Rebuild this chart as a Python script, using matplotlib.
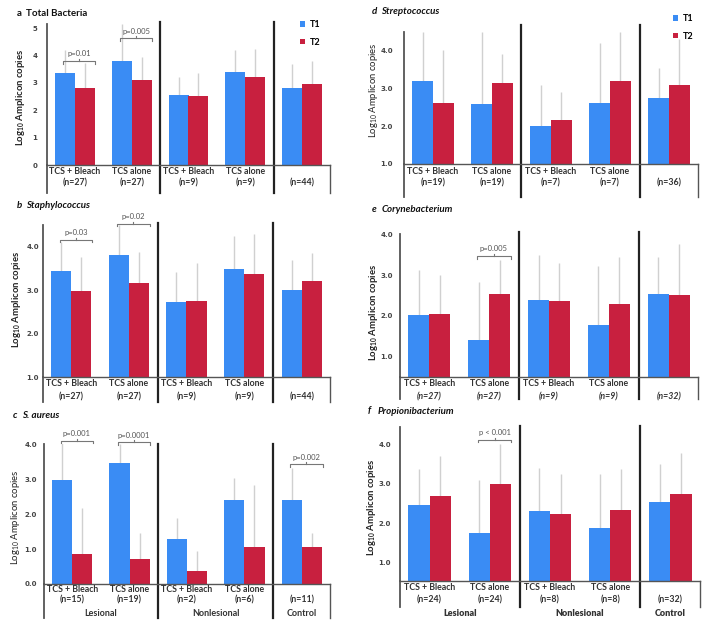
import matplotlib
matplotlib.use('Agg')
import matplotlib.pyplot as plt
import matplotlib.transforms as mtransforms
import numpy as np

plt.rcParams['font.family'] = ['Lato', 'DejaVu Sans']
plt.rcParams['mathtext.default'] = 'regular'

W, H = 714, 628
BLUE = '#3a8cf4'
RED = '#c8203f'
ERRC = '#d0d0d0'

# ---------------- data ----------------
treat = ['TCS + Bleach', 'TCS alone', 'TCS + Bleach', 'TCS alone', '']
sites = ['Lesional', 'Nonlesional', 'Control']
series = ['T1', 'T2']

a_t1 = [3.38, 3.82, 2.55, 3.39, 2.83]
a_t2 = [2.80, 3.11, 2.51, 3.22, 2.98]
a_e1 = [0.82, 1.33, 0.68, 0.81, 0.87]
a_e2 = [0.92, 0.83, 0.84, 1.01, 0.81]
a_n = ['(n=27)', '(n=27)', '(n=9)', '(n=9)', '(n=44)']

b_t1 = [3.44, 3.82, 2.72, 3.50, 3.00]
b_t2 = [2.99, 3.18, 2.75, 3.37, 3.21]
b_e1 = [0.68, 0.68, 0.70, 0.75, 0.71]
b_e2 = [0.79, 0.70, 0.87, 0.92, 0.65]
b_n = ['(n=27)', '(n=27)', '(n=9)', '(n=9)', '(n=44)']

c_t1 = [2.98, 3.46, 1.29, 2.41, 2.41]
c_t2 = [0.85, 0.72, 0.38, 1.07, 1.07]
c_e1 = [1.07, 0.54, 0.59, 0.62, 0.92]
c_e2 = [1.32, 0.73, 0.57, 1.77, 0.40]
c_n = ['(n=15)', '(n=19)', '(n=2)', '(n=6)', '(n=11)']

d_t1 = [3.18, 2.59, 1.99, 2.62, 2.73]
d_t2 = [2.60, 3.13, 2.15, 3.20, 3.07]
d_e1 = [1.30, 1.89, 1.09, 1.56, 0.81]
d_e2 = [1.40, 0.76, 0.75, 1.28, 1.23]
d_n = ['(n=19)', '(n=19)', '(n=7)', '(n=7)', '(n=36)']

e_t1 = [2.02, 1.41, 2.39, 1.77, 2.53]
e_t2 = [2.05, 2.55, 2.37, 2.29, 2.51]
e_e1 = [1.11, 1.43, 1.10, 1.45, 0.91]
e_e2 = [0.95, 0.82, 0.92, 1.15, 1.25]
e_n = ['(n=27)', '(n=27)', '(n=9)', '(n=9)', '(n=32)']

f_t1 = [2.47, 1.77, 2.31, 1.89, 2.55]
f_t2 = [2.70, 2.99, 2.23, 2.34, 2.75]
f_e1 = [0.90, 1.33, 1.10, 1.35, 0.94]
f_e2 = [1.01, 1.01, 1.01, 1.03, 1.02]
f_n = ['(n=24)', '(n=24)', '(n=8)', '(n=8)', '(n=32)']

# p-value brackets: (group, text, level)
a_p = [(0, 'p=0.01', 3.80), (1, 'p=0.005', 4.63)]
b_p = [(0, 'p=0.03', 4.17), (1, 'p=0.02', 4.54)]
c_p = [(0, 'p=0.001', 4.10), (1, 'p=0.0001', 4.06), (4, 'p=0.002', 3.43)]
e_p = [(1, 'p=0.005', 3.47)]
f_p = [(1, 'p < 0.001', 4.11)]

fig = plt.figure(figsize=(W / 100, H / 100), dpi=100)


def fy(ypx):
    return 1 - ypx / H


def panel(t1, t2, e1, e2, nlab, brackets, box, ylim, yticks, yfmt, tpad,
          title, title_xy, title_style, ylab_xy, ylab_bold, rows_y, sep_top,
          box_bottom, n_style, groups_y=None, group_weight='normal',
          legend_xy=None):
    x0, x1, ytop, ybot = box
    ax = fig.add_axes([x0 / W, fy(ybot), (x1 - x0) / W, (ybot - ytop) / H])
    xl = (-0.49, 4.49)
    ax.set_xlim(*xl)
    ax.set_ylim(*ylim)
    x = np.arange(len(t1))
    w = 0.35
    ax.errorbar(x - w / 2, t1, yerr=[np.zeros(len(t1)), e1], fmt='none',
                ecolor=ERRC, elinewidth=1.0, capsize=0, zorder=1)
    ax.errorbar(x + w / 2, t2, yerr=[np.zeros(len(t2)), e2], fmt='none',
                ecolor=ERRC, elinewidth=1.0, capsize=0, zorder=1)
    b1 = ax.bar(x - w / 2, t1, w, color=BLUE, zorder=2, label=series[0])
    b2 = ax.bar(x + w / 2, t2, w, color=RED, zorder=2, label=series[1])

    for s in ['top', 'right']:
        ax.spines[s].set_visible(False)
    ax.spines['left'].set_color('#555555')
    ax.spines['left'].set_linewidth(1.3)
    ax.spines['bottom'].set_color('#555555')
    ax.spines['bottom'].set_linewidth(1.0)
    ax.set_xticks([])
    ax.set_yticks(yticks)
    ax.set_yticklabels([yfmt.format(v) for v in yticks],
                       family=['DejaVu Sans'])
    ax.tick_params(axis='y', length=0, pad=tpad, labelsize=5,
                   labelcolor='#444444')
    for lab in ax.get_yticklabels():
        lab.set_fontweight('bold')

    tr = mtransforms.blended_transform_factory(ax.transData, fig.transFigure)
    ybot_f = fy(ybot)
    ax.plot([xl[0], xl[0]], [ybot_f, fy(box_bottom)], transform=tr,
            color='#555555', lw=1.3, clip_on=False)
    ax.plot([xl[1], xl[1]], [ybot_f, fy(box_bottom)], transform=tr,
            color='#555555', lw=1.0, clip_on=False)
    for sx in [1.5, 3.5]:
        ax.plot([sx, sx], [fy(sep_top), fy(box_bottom)], transform=tr,
                color='#222222', lw=1.6, clip_on=False)

    for i in range(len(t1)):
        if treat[i]:
            ax.text(i, fy(rows_y[0]), treat[i], transform=tr, ha='center',
                    va='center', fontsize=6.3, fontweight='bold',
                    color='#333333')
        ax.text(i, fy(rows_y[1]), nlab[i], transform=tr, ha='center',
                va='center', fontsize=6.3, color='#333333', **n_style)
    if groups_y is not None:
        for gx, g in zip([0.5, 2.5, 4.0], sites):
            ax.text(gx, fy(groups_y), g, transform=tr, ha='center',
                    va='center', fontsize=6.5, fontweight=group_weight,
                    color='#333333')

    ppu = (ybot - ytop) / (ylim[1] - ylim[0])
    dt = 2.5 / ppu
    for g, txt, lvl in brackets:
        lx, rx = g - 0.2, g + 0.36
        ax.plot([lx, lx, rx, rx], [lvl - dt, lvl, lvl, lvl - dt],
                color='#777777', lw=0.8, clip_on=False, zorder=3)
        ax.plot([(lx + rx) / 2] * 2, [lvl, lvl + dt * 0.8], color='#777777',
                lw=0.8, clip_on=False, zorder=3)
        ax.text((lx + rx) / 2, lvl + 1.5 * dt, txt, ha='center',
                va='bottom', fontsize=5.5, color='#555555', clip_on=False)

    fig.text(title_xy[0] / W, fy(title_xy[1]), title[0] + ' ', ha='left',
             va='center', fontsize=7, fontweight='bold', color='#111111',
             style=title_style)
    fig.text(title_xy[0] / W + 0.013, fy(title_xy[1]), title[1], ha='left',
             va='center', fontsize=7, fontweight='bold', color='#111111',
             style=title_style)
    fig.text(ylab_xy[0] / W, fy(ylab_xy[1]), 'Log$_{10}$ Amplicon copies',
             rotation=90, ha='center', va='center', fontsize=6.8,
             fontweight='bold' if ylab_bold else 'normal', color='#222222')

    if legend_xy is not None:
        ax.legend([b1, b2], series, loc='upper left',
                  bbox_to_anchor=(legend_xy[0] / W, fy(legend_xy[1])),
                  bbox_transform=fig.transFigure, frameon=False,
                  handlelength=0.55, handleheight=0.55, handletextpad=0.5,
                  labelspacing=0.95, borderpad=0, borderaxespad=0,
                  prop={'weight': 'bold', 'size': 6.5})
    return ax


bold_n = {'fontweight': 'bold'}
ital_n = {'fontweight': 'bold', 'style': 'italic'}

panel(a_t1, a_t2, a_e1, a_e2, a_n, a_p,
      box=(47, 330, 24.2, 165), ylim=(0, 5.15), yticks=[0, 1, 2, 3, 4, 5],
      yfmt='{:.0f}', tpad=7, title=('a', 'Total Bacteria'),
      title_xy=(17, 13), title_style='normal', ylab_xy=(21, 98),
      ylab_bold=True, rows_y=(172, 183), sep_top=22, box_bottom=193,
      n_style=bold_n, legend_xy=(300, 20))

panel(b_t1, b_t2, b_e1, b_e2, b_n, b_p,
      box=(43, 330, 225.3, 377), ylim=(1, 4.5), yticks=[1, 2, 3, 4],
      yfmt='{:.1f}', tpad=3, title=('b', 'Staphylococcus'),
      title_xy=(17, 205), title_style='italic', ylab_xy=(17, 300),
      ylab_bold=True, rows_y=(384, 397), sep_top=223, box_bottom=402,
      n_style=bold_n)

panel(c_t1, c_t2, c_e1, c_e2, c_n, c_p,
      box=(44, 330, 443.7, 584), ylim=(0, 4.02), yticks=[0, 1, 2, 3, 4],
      yfmt='{:.1f}', tpad=5, title=('c', 'S. aureus'),
      title_xy=(13, 415), title_style='italic', ylab_xy=(15, 517),
      ylab_bold=False, rows_y=(589, 600), sep_top=444, box_bottom=618,
      n_style=bold_n, groups_y=613, group_weight='bold')

panel(d_t1, d_t2, d_e1, d_e2, d_n, [],
      box=(404, 698, 32, 164), ylim=(1, 4.48), yticks=[1, 2, 3, 4],
      yfmt='{:.1f}', tpad=8, title=('d', 'Streptococcus'),
      title_xy=(372, 11), title_style='italic', ylab_xy=(374, 90),
      ylab_bold=False, rows_y=(172, 183), sep_top=25, box_bottom=197,
      n_style=bold_n, legend_xy=(673, 14))

panel(e_t1, e_t2, e_e1, e_e2, e_n, e_p,
      box=(400, 698, 233.6, 376.7), ylim=(0.51, 4.02), yticks=[1, 2, 3, 4],
      yfmt='{:.1f}', tpad=5, title=('e', 'Corynebacterium'),
      title_xy=(372, 210), title_style='italic', ylab_xy=(374, 313),
      ylab_bold=True, rows_y=(384, 397), sep_top=232, box_bottom=399,
      n_style=ital_n)

panel(f_t1, f_t2, f_e1, f_e2, f_n, f_p,
      box=(400, 700, 426.5, 580.8), ylim=(0.55, 4.45), yticks=[1, 2, 3, 4],
      yfmt='{:.1f}', tpad=6.5, title=('f', 'Propionibacterium'),
      title_xy=(368, 411), title_style='italic', ylab_xy=(371, 508),
      ylab_bold=True, rows_y=(588, 600), sep_top=426, box_bottom=607,
      n_style=bold_n, groups_y=614, group_weight='heavy')

fig.savefig('out.png', dpi=100)
